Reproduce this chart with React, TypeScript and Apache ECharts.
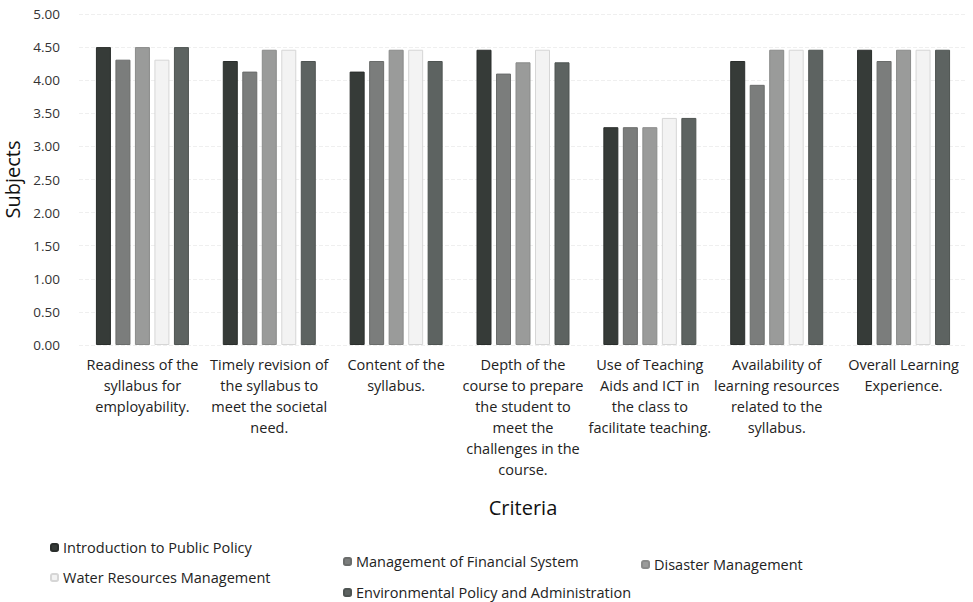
import React, { useEffect, useRef } from "react";
import * as echarts from "echarts";

const categories = [
  "Readiness of the\nsyllabus for\nemployability.",
  "Timely revision of\nthe syllabus to\nmeet the societal\nneed.",
  "Content of the\nsyllabus.",
  "Depth of the\ncourse to prepare\nthe student to\nmeet the\nchallenges in the\ncourse.",
  "Use of Teaching\nAids and ICT in\nthe class to\nfacilitate teaching.",
  "Availability of\nlearning resources\nrelated to the\nsyllabus.",
  "Overall Learning\nExperience.",
];

const seriesNames = [
  "Introduction to Public Policy",
  "Management of Financial System",
  "Disaster Management",
  "Water Resources Management",
  "Environmental Policy and Administration",
];

const introPublicPolicy = [4.5, 4.29, 4.13, 4.46, 3.29, 4.29, 4.46];
const mgmtFinancialSystem = [4.31, 4.13, 4.29, 4.1, 3.29, 3.93, 4.29];
const disasterMgmt = [4.5, 4.46, 4.46, 4.27, 3.29, 4.46, 4.46];
const waterResourcesMgmt = [4.31, 4.46, 4.46, 4.46, 3.43, 4.46, 4.46];
const envPolicyAdmin = [4.5, 4.29, 4.29, 4.27, 3.43, 4.46, 4.46];

const seriesValues = [
  introPublicPolicy,
  mgmtFinancialSystem,
  disasterMgmt,
  waterResourcesMgmt,
  envPolicyAdmin,
];

const colors = ["#363b38", "#7b7d7c", "#9a9b9a", "#f3f3f3", "#5d6361"];
const borders = ["#2a2e2c", "#6a6c6b", "#8a8b8a", "#d6d6d6", "#4e5452"];

// legend placement (left, top) per series
const legendPos = [
  [50, 540],
  [343, 554],
  [641, 557],
  [50, 570],
  [343, 585],
];

const FONT = "'Open Sans', 'Noto Sans', sans-serif";

export default function App() {
  const ref = useRef<HTMLDivElement>(null);
  useEffect(() => {
    document.body.style.margin = "0";
    if (!ref.current) return;
    const chart = echarts.init(ref.current, undefined, { renderer: "svg" });
    const legendText = { fontFamily: FONT, fontSize: 14.5, color: "#222" };
    chart.setOption({
      animation: false,
      backgroundColor: "#ffffff",
      textStyle: { fontFamily: FONT },
      grid: { left: 79, right: 6, top: 14, bottom: 257, outerBoundsMode: "none" },
      legend: seriesNames.map((n, i) => ({
        data: [n],
        left: legendPos[i][0],
        top: legendPos[i][1],
        itemWidth: 7,
        itemHeight: 7,
        padding: 0,
        textStyle: legendText,
      })),
      xAxis: {
        type: "category",
        data: categories,
        name: "Criteria",
        nameLocation: "middle",
        nameGap: 152,
        nameTextStyle: { fontFamily: FONT, fontSize: 20, color: "#111" },
        axisLine: { show: false },
        axisTick: { show: false },
        axisLabel: {
          interval: 0,
          fontFamily: FONT,
          fontSize: 14.5,
          color: "#222",
          lineHeight: 21,
          margin: 9,
        },
      },
      yAxis: {
        type: "value",
        min: 0,
        max: 5,
        interval: 0.5,
        name: "Subjects",
        nameLocation: "middle",
        nameGap: 50,
        nameTextStyle: { fontFamily: FONT, fontSize: 20, color: "#111" },
        axisLine: { show: false },
        axisTick: { show: false },
        axisLabel: {
          formatter: (v: number) => v.toFixed(2),
          fontFamily: FONT,
          fontSize: 13.5,
          color: "#333",
          margin: 19,
        },
        splitLine: { lineStyle: { color: "#efefef", type: "dashed" } },
      },
      series: seriesNames.map((name, i) => ({
        name,
        type: "bar",
        data: seriesValues[i],
        barWidth: 15,
        barGap: "30%",
        itemStyle: {
          color: colors[i],
          borderColor: borders[i],
          borderWidth: 1,
        },
      })),
    });
    return () => chart.dispose();
  }, []);
  return <div ref={ref} style={{ width: 973, height: 602 }} />;
}
